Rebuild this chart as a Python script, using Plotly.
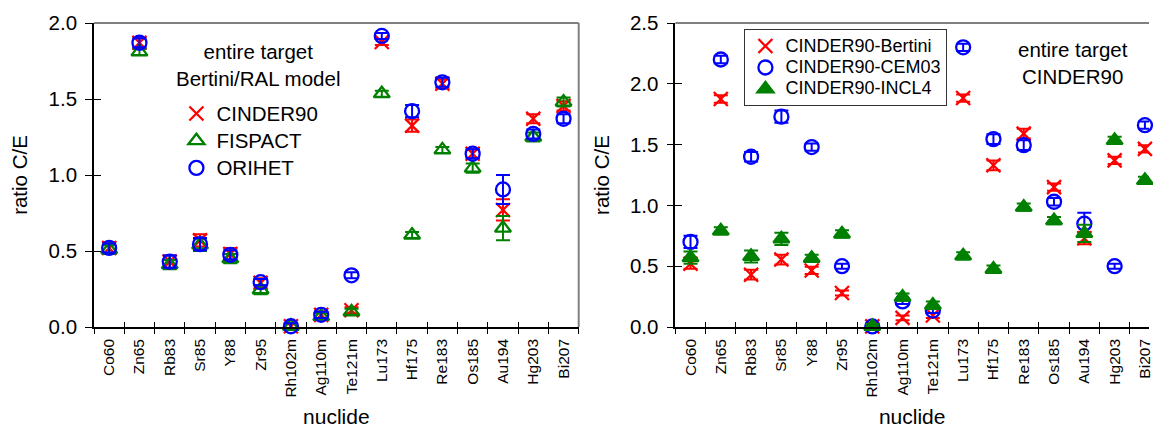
import plotly.graph_objects as go

categories = ["Co60", "Zn65", "Rb83", "Sr85", "Y88", "Zr95", "Rh102m", "Ag110m",
              "Te121m", "Lu173", "Hf175", "Re183", "Os185", "Au194", "Hg203", "Bi207"]

# Left panel: entire target, Bertini/RAL model
cinder90 = [0.52, 1.87, 0.43, 0.57, 0.48, 0.29, 0.005, 0.08, 0.11, 1.875, 1.325, 1.60, 1.14, 0.77, 1.37, 1.455]
cinder90_err = [0.04, 0.03, 0.04, 0.04, 0.04, 0.03, 0.02, 0.02, 0.02, 0.02, 0.04, 0.03, 0.03, 0.07, 0.03, 0.03]
fispact = [0.51, 1.81, 0.41, 0.54, 0.45, 0.245, 0.005, 0.07, 0.10, 1.535, 0.605, 1.165, 1.045, 0.65, 1.25, 1.48]
fispact_err = [0.03, 0.02, 0.03, 0.04, 0.03, 0.03, 0.02, 0.02, 0.02, 0.02, 0.02, 0.02, 0.03, 0.08, 0.03, 0.03]
orihet = [0.52, 1.87, 0.43, 0.545, 0.475, 0.295, 0.005, 0.08, 0.34, 1.915, 1.42, 1.61, 1.14, 0.905, 1.27, 1.37]
orihet_err = [0.03, 0.03, 0.04, 0.04, 0.03, 0.02, 0.02, 0.02, 0.02, 0.02, 0.04, 0.03, 0.03, 0.095, 0.03, 0.03]

# Right panel: entire target, CINDER90
bertini = [0.52, 1.875, 0.43, 0.555, 0.465, 0.28, 0.005, 0.075, 0.095, 1.883, 1.33, 1.59, 1.15, 0.73, 1.37, 1.465]
bertini_err = [0.04, 0.03, 0.04, 0.04, 0.03, 0.02, 0.02, 0.02, 0.02, 0.03, 0.04, 0.04, 0.03, 0.05, 0.03, 0.03]
cem03 = [0.70, 2.20, 1.40, 1.73, 1.48, 0.50, 0.005, 0.21, 0.135, 2.30, 1.545, 1.495, 1.03, 0.85, 0.50, 1.66]
cem03_err = [0.05, 0.03, 0.04, 0.05, 0.03, 0.02, 0.02, 0.02, 0.02, 0.03, 0.04, 0.04, 0.03, 0.09, 0.02, 0.03]
incl4 = [0.57, 0.79, 0.58, 0.725, 0.565, 0.765, 0.005, 0.245, 0.18, 0.585, 0.475, 0.985, 0.875, 0.77, 1.535, 1.205]
incl4_err = [0.05, 0.03, 0.05, 0.05, 0.03, 0.03, 0.02, 0.03, 0.03, 0.03, 0.03, 0.03, 0.03, 0.07, 0.03, 0.03]

left_yticks = [0.0, 0.5, 1.0, 1.5, 2.0]
right_yticks = [0.0, 0.5, 1.0, 1.5, 2.0, 2.5]

RED = "#FF0000"
GREEN = "#008000"
BLUE = "#0000FF"
FONT = "Arial, Liberation Sans, sans-serif"

fig = go.Figure()


def add_series(name, vals, errs, symbol, color, xa, ya, legend, label_px):
    marker = dict(symbol=symbol, size=14, color=color,
                  line=dict(color=color, width=2.3))
    fig.add_trace(go.Scatter(
        x=categories, y=vals, mode="markers",
        name=f"<span style='font-size:{label_px}px'>{name}</span>",
        marker=marker, xaxis=xa, yaxis=ya, legend=legend,
        cliponaxis=False,
        error_y=dict(type="data", array=errs, color=color, thickness=2, width=7),
    ))


# left panel traces
add_series("CINDER90", cinder90, cinder90_err, "x-thin", RED, "x", "y", "legend", 20.5)
add_series("FISPACT", fispact, fispact_err, "triangle-up-open", GREEN, "x", "y", "legend", 20.5)
add_series("ORIHET", orihet, orihet_err, "circle-open", BLUE, "x", "y", "legend", 20.5)

# right panel traces
add_series("CINDER90-Bertini", bertini, bertini_err, "x-thin", RED, "x2", "y2", "legend2", 18)
add_series("CINDER90-CEM03", cem03, cem03_err, "circle-open", BLUE, "x2", "y2", "legend2", 18)
add_series("CINDER90-INCL4", incl4, incl4_err, "triangle-up", GREEN, "x2", "y2", "legend2", 18)

# invisible helper traces so the overlay (inside-tick) axes are drawn
for xa, ya in (("x3", "y3"), ("x4", "y4")):
    fig.add_trace(go.Scatter(x=categories, y=[None] * len(categories), mode="markers",
                             xaxis=xa, yaxis=ya, showlegend=False, hoverinfo="skip"))

W, H = 1153, 428
ml, mr, mt, mb = 94.3, 0, 23, 100.7
pw = W - ml - mr
ph = H - mt - mb
d_left = [0, (580.7 - ml) / pw]
d_right = [(677.7 - ml) / pw, 1]
right_range = [-0.5, -0.5 + (W - 677.7) / 30.4]


def px_x(x):
    return (x - ml) / pw


def px_y(y):
    return (H - mb - y) / ph


xcommon = dict(type="category", categoryorder="array", categoryarray=categories,
               tickson="boundaries", showgrid=False, zeroline=False)
ycommon = dict(showgrid=False, zeroline=False, tickformat=".1f")

xmain = dict(showline=True, linecolor="black", linewidth=1.6,
             ticks="outside", ticklen=5, tickwidth=1.3, tickcolor="black",
             tickangle=-90, tickfont=dict(size=15.5), ticklabelstandoff=4,
             title=dict(text="nuclide", font=dict(size=21), standoff=14))
ymain = dict(showline=True, linecolor="black", linewidth=1.6,
             ticks="outside", ticklen=7, tickwidth=1.3, tickcolor="black",
             tickfont=dict(size=20.5), ticklabelstandoff=4,
             title=dict(text="ratio C/E", font=dict(size=20.5), standoff=15))
xin = dict(showline=False, ticks="inside", ticklen=5, tickwidth=1.3,
           tickcolor="black", showticklabels=False)
yin = dict(showline=False, ticks="inside", ticklen=7, tickwidth=1.3,
           tickcolor="black", showticklabels=False)

fig.update_layout(
    width=W, height=H,
    margin=dict(l=ml, r=mr, t=mt, b=mb, pad=0),
    paper_bgcolor="white", plot_bgcolor="white",
    font=dict(family=FONT, color="black", size=20),
    showlegend=True,
    xaxis=dict(**xcommon, **xmain, domain=d_left, anchor="y", range=[-0.5, 15.5]),
    yaxis=dict(**ycommon, **ymain, domain=[0, 1], anchor="x", range=[0, 2.0],
               tickvals=left_yticks),
    xaxis2=dict(**xcommon, **xmain, domain=d_right, anchor="y2", range=right_range),
    yaxis2=dict(**ycommon, **ymain, domain=[0, 1], anchor="x2", range=[0, 2.5],
                tickvals=right_yticks),
    # overlay axes carrying the inward half of the crossing ticks
    xaxis3=dict(**xcommon, **xin, overlaying="x", anchor="y3", range=[-0.5, 15.5]),
    yaxis3=dict(**ycommon, **yin, overlaying="y", anchor="x3", range=[0, 2.0],
                tickvals=left_yticks),
    xaxis4=dict(**xcommon, **xin, overlaying="x2", anchor="y4", range=right_range),
    yaxis4=dict(**ycommon, **yin, overlaying="y2", anchor="x4", range=[0, 2.5],
                tickvals=right_yticks),
    legend=dict(x=px_x(177), y=px_y(95), xanchor="left", yanchor="top",
                bgcolor="rgba(0,0,0,0)", borderwidth=0, font=dict(size=18.6),
                tracegroupgap=0, itemwidth=30),
    legend2=dict(x=px_x(747), y=px_y(29.3), xanchor="left", yanchor="top",
                 bgcolor="white", bordercolor="#333333", borderwidth=1,
                 font=dict(size=14.2), tracegroupgap=0, itemwidth=30),
    annotations=[
        dict(text="entire target<br>Bertini/RAL model", xref="paper", yref="paper",
             x=px_x(258.5), y=px_y(65.5), xanchor="center", yanchor="middle",
             showarrow=False, font=dict(size=20.5)),
        dict(text="entire target<br>CINDER90", xref="paper", yref="paper",
             x=px_x(1077), y=px_y(63.5), xanchor="center", yanchor="middle",
             showarrow=False, font=dict(size=20.5)),
    ],
    shapes=[
        # grey frame (top and right) of the left panel
        dict(type="line", xref="x domain", yref="y domain", x0=0, x1=1, y0=1, y1=1,
             line=dict(color="#808080", width=2), layer="below"),
        dict(type="line", xref="x domain", yref="y domain", x0=1, x1=1, y0=0, y1=1,
             line=dict(color="#808080", width=2), layer="below"),
        # grey top frame of the right panel
        dict(type="line", xref="x2 domain", yref="y2 domain", x0=0, x1=1, y0=1, y1=1,
             line=dict(color="#808080", width=2), layer="below"),
    ],
)

fig.write_html(
    "out.html",
    config={"displayModeBar": False},
    post_script="document.body.style.margin='0px';document.body.style.overflow='hidden';",
)
